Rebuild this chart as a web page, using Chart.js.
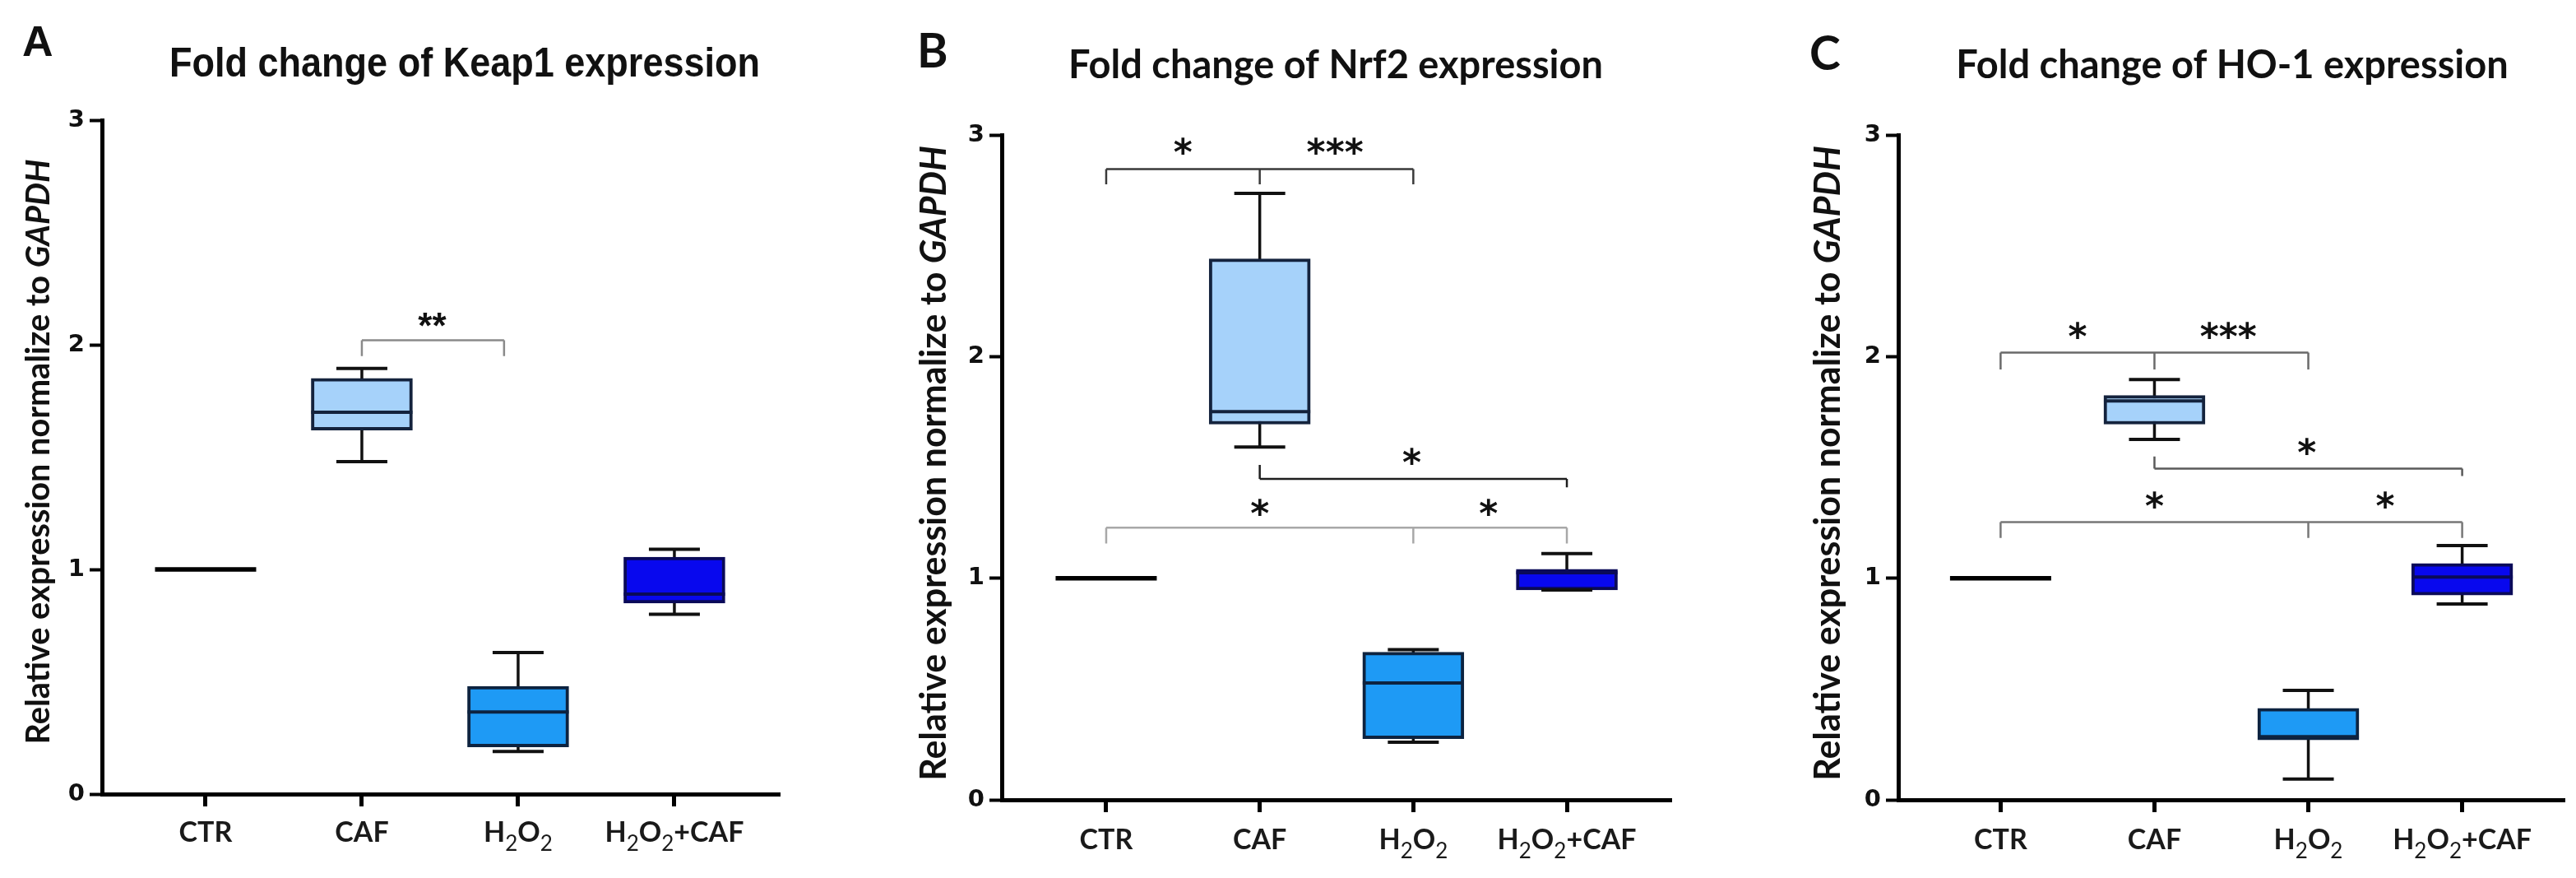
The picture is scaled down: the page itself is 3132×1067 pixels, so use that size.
<!DOCTYPE html>
<html>
<head>
<meta charset="utf-8">
<title>Fold change of Keap1, Nrf2 and HO-1 expression</title>
<script src="https://cdn.jsdelivr.net/npm/chart.js@4.4.0/dist/chart.umd.min.js"></script>
<style>
  html, body { margin: 0; padding: 0; background: #fff; }
  #wrap { position: relative; width: 3132px; height: 1067px; overflow: hidden; background: #fff; }
  #wrap canvas { position: absolute; top: 0; width: 1044px; height: 1067px; }
</style>
</head>
<body>
<div id="wrap">
  <canvas id="keap1" width="1044" height="1067" style="left:0px"></canvas>
  <canvas id="nrf2" width="1044" height="1067" style="left:1044px"></canvas>
  <canvas id="ho1" width="1044" height="1067" style="left:2088px"></canvas>
</div>
<script>
// groups on the x axis ('_' = next character is a subscript)
const groupLabels = ['CTR', 'CAF', 'H_2O_2', 'H_2O_2+CAF'];
const yTicks = [0, 1, 2, 3];

// Keap1 box stats
const keap1Min    = [1, 1.48, 0.19, 0.80];
const keap1Q1     = [1, 1.62, 0.21, 0.85];
const keap1Median = [1, 1.70, 0.365, 0.89];
const keap1Q3     = [1, 1.85, 0.48, 1.055];
const keap1Max    = [1, 1.895, 0.63, 1.09];
const keap1BracketX    = [[1, 1.91]];
const keap1BracketY    = [2.02];
const keap1BracketTips = [[1.95, 1.95]];
const keap1StarX    = [1.45];
const keap1StarY    = [2.11];
const keap1StarText = ['**'];

// Nrf2 box stats
const nrf2Min    = [1, 1.592, 0.26, 0.947];
const nrf2Q1     = [1, 1.695, 0.276, 0.947];
const nrf2Median = [1, 1.752, 0.527, 1.025];
const nrf2Q3     = [1, 2.441, 0.666, 1.04];
const nrf2Max    = [1, 2.736, 0.678, 1.111];
const nrf2BracketX    = [[0, 1, 2], [1, 3], [0, 2, 3]];
const nrf2BracketY    = [2.846, 1.448, 1.228];
const nrf2BracketTips = [[2.777, 2.777, 2.777], [1.511, 1.41], [1.157, 1.157, 1.157]];
const nrf2StarX    = [0.5, 1.49, 1.99, 1.0, 2.49];
const nrf2StarY    = [2.95, 2.95, 1.55, 1.32, 1.32];
const nrf2StarText = ['*', '***', '*', '*', '*'];

// HO-1 box stats
const ho1Min    = [1, 1.626, 0.094, 0.884];
const ho1Q1     = [1, 1.695, 0.27, 0.924];
const ho1Median = [1, 1.80, 0.285, 1.005];
const ho1Q3     = [1, 1.825, 0.413, 1.066];
const ho1Max    = [1, 1.896, 0.494, 1.147];
const ho1BracketX    = [[0, 1, 2], [1, 3], [0, 2, 3]];
const ho1BracketY    = [2.018, 1.494, 1.253];
const ho1BracketTips = [[1.942, 1.942, 1.942], [1.549, 1.461], [1.182, 1.182, 1.182]];
const ho1StarX    = [0.5, 1.48, 1.99, 1.0, 2.5];
const ho1StarY    = [2.12, 2.12, 1.595, 1.354, 1.354];
const ho1StarText = ['*', '***', '*', '*', '*'];

// styling
const boxFill   = ['rgba(0,0,0,0)', '#a6d2fa', '#1e9af5', '#0808ee'];
const boxBorder = ['#000000', '#14233d', '#0d2340', '#0a0a58'];
const calibriLike = 'Lato, "Open Sans", sans-serif';
const tickFont = '"DejaVu Sans", Verdana, sans-serif';
const CANVAS_H = 1067;
const Y_AXIS_W = 80;
const X_AXIS_H = 60;
const BOX_W = 123;
const CAP_W = 62;

const panels = [
  {
    id: 'keap1', offset: 0,
    area: { left: 124, right: 948, top: 146, bottom: 965 },
    xRange: [-0.663, 3.674],
    letter: { text: 'A', x: 27, y: 68, font: 'bold 52px "Liberation Sans", Arial, sans-serif' },
    title: { text: 'Fold change of Keap1 expression', cx: 565, y: 93, width: 718,
             font: 'bold 50px "Liberation Sans Narrow", "Liberation Sans", Arial, sans-serif' },
    yTitle: { x: 60, cy: 549, length: 711 },
    labelBaseline: 1023,
    stats: { min: keap1Min, q1: keap1Q1, median: keap1Median, q3: keap1Q3, max: keap1Max },
    bracketX: keap1BracketX, bracketY: keap1BracketY, bracketTips: keap1BracketTips,
    bracketColors: ['#8a8a8a'],
    starX: keap1StarX, starY: keap1StarY, starText: keap1StarText,
    starFont: 'bold 44px "Liberation Sans", Arial, sans-serif'
  },
  {
    id: 'nrf2', offset: 1044,
    area: { left: 1218, right: 2032, top: 164, bottom: 972 },
    xRange: [-0.68, 3.68],
    letter: { text: 'B', x: 1115, y: 82, font: 'bold 57px ' + calibriLike },
    title: { text: 'Fold change of Nrf2 expression', cx: 1624, y: 95, width: 660,
             font: 'bold 47px ' + calibriLike },
    yTitle: { x: 1150, cy: 563, length: 772 },
    labelBaseline: 1032,
    stats: { min: nrf2Min, q1: nrf2Q1, median: nrf2Median, q3: nrf2Q3, max: nrf2Max },
    bracketX: nrf2BracketX, bracketY: nrf2BracketY, bracketTips: nrf2BracketTips,
    bracketColors: ['#3a3a3a', '#1e1e1e', '#a8a8a8'],
    starX: nrf2StarX, starY: nrf2StarY, starText: nrf2StarText,
    starFont: 'bold 44px "DejaVu Sans", sans-serif'
  },
  {
    id: 'ho1', offset: 2088,
    area: { left: 2308, right: 3118, top: 164, bottom: 972 },
    xRange: [-0.665, 3.665],
    letter: { text: 'C', x: 2200, y: 85, font: 'bold 57px ' + calibriLike },
    title: { text: 'Fold change of HO-1 expression', cx: 2714, y: 95, width: 672,
             font: 'bold 47px ' + calibriLike },
    yTitle: { x: 2237, cy: 563, length: 772 },
    labelBaseline: 1032,
    stats: { min: ho1Min, q1: ho1Q1, median: ho1Median, q3: ho1Q3, max: ho1Max },
    bracketX: ho1BracketX, bracketY: ho1BracketY, bracketTips: ho1BracketTips,
    bracketColors: ['#6a6a6a', '#5a5a5a', '#777777'],
    starX: ho1StarX, starY: ho1StarY, starText: ho1StarText,
    starFont: 'bold 44px "DejaVu Sans", sans-serif'
  }
];

// split 'H_2O_2' into normal / subscript runs
function labelRuns(label) {
  const runs = [];
  for (let i = 0; i < label.length; i++) {
    let sub = false;
    let ch = label[i];
    if (ch === '_') { sub = true; ch = label[++i]; }
    const last = runs[runs.length - 1];
    if (last && last.sub === sub) last.text += ch;
    else runs.push({ text: ch, sub: sub });
  }
  return runs;
}

function drawGroupLabel(ctx, label, cx, baseline) {
  const mainFont = 'bold 34px ' + calibriLike;
  const subFont = '26px ' + calibriLike;
  const runs = labelRuns(label);
  let total = 0;
  runs.forEach(r => {
    ctx.font = r.sub ? subFont : mainFont;
    r.w = ctx.measureText(r.text).width;
    total += r.w;
  });
  let x = cx - total / 2;
  ctx.textAlign = 'left';
  ctx.textBaseline = 'alphabetic';
  runs.forEach(r => {
    ctx.font = r.sub ? subFont : mainFont;
    ctx.fillText(r.text, x, r.sub ? baseline + 11 : baseline);
    x += r.w;
  });
}

// rotated axis title, GAPDH in italics, sized to the measured length
function drawYTitle(ctx, p) {
  const partA = 'Relative expression normalize to ';
  const partB = 'GAPDH';
  const fonts = size => ['bold ' + size + 'px ' + calibriLike, 'italic bold ' + size + 'px ' + calibriLike];
  const widths = size => {
    const [fa, fb] = fonts(size);
    ctx.font = fa;
    const wA = ctx.measureText(partA).width;
    ctx.font = fb;
    return [wA, ctx.measureText(partB).width];
  };
  let [wA, wB] = widths(40);
  const size = 40 * p.yTitle.length / (wA + wB);
  [wA, wB] = widths(size);
  const [fontA, fontB] = fonts(size);
  ctx.save();
  ctx.translate(p.yTitle.x - p.offset, p.yTitle.cy);
  ctx.rotate(-Math.PI / 2);
  const start = -(wA + wB) / 2;
  ctx.textAlign = 'left';
  ctx.textBaseline = 'alphabetic';
  ctx.fillStyle = '#111';
  ctx.font = fontA;
  ctx.fillText(partA, start, 0);
  ctx.font = fontB;
  ctx.fillText(partB, start + wA, 0);
  ctx.restore();
}

function boxDecor(p) {
  return {
    id: 'boxDecor',
    beforeDatasetsDraw(chart) {
      const { ctx, scales: { x, y } } = chart;
      ctx.save();
      ctx.strokeStyle = '#111';
      ctx.lineWidth = 3.5;
      p.stats.min.forEach((mn, i) => {
        const mx = p.stats.max[i];
        if (mx === mn) return;
        const px = x.getPixelForValue(i);
        ctx.beginPath();
        ctx.moveTo(px, y.getPixelForValue(mn));
        ctx.lineTo(px, y.getPixelForValue(mx));
        ctx.stroke();
      });
      ctx.restore();
    },
    afterDatasetsDraw(chart) {
      const { ctx, scales: { x, y } } = chart;
      ctx.save();
      ctx.lineCap = 'butt';
      p.stats.median.forEach((md, i) => {
        const px = x.getPixelForValue(i);
        // whisker caps
        if (p.stats.max[i] !== p.stats.min[i]) {
          ctx.strokeStyle = '#111';
          ctx.lineWidth = 4;
          [p.stats.min[i], p.stats.max[i]].forEach(v => {
            const py = y.getPixelForValue(v);
            ctx.beginPath();
            ctx.moveTo(px - CAP_W / 2, py);
            ctx.lineTo(px + CAP_W / 2, py);
            ctx.stroke();
          });
        }
        // median
        const boxFlat = p.stats.q1[i] === p.stats.q3[i];
        ctx.strokeStyle = boxFlat ? '#000' : boxBorder[i];
        ctx.lineWidth = boxFlat ? 5.5 : 4;
        const py = y.getPixelForValue(md);
        ctx.beginPath();
        ctx.moveTo(px - BOX_W / 2, py);
        ctx.lineTo(px + BOX_W / 2, py);
        ctx.stroke();
      });
      ctx.restore();
    },
    afterDraw(chart) {
      const { ctx, scales: { x, y } } = chart;
      ctx.save();
      // significance brackets
      ctx.lineWidth = 2.5;
      p.bracketX.forEach((xs, k) => {
        ctx.strokeStyle = p.bracketColors[k % p.bracketColors.length];
        const yl = y.getPixelForValue(p.bracketY[k]);
        ctx.beginPath();
        ctx.moveTo(x.getPixelForValue(xs[0]), yl);
        ctx.lineTo(x.getPixelForValue(xs[xs.length - 1]), yl);
        xs.forEach((xv, j) => {
          const px = x.getPixelForValue(xv);
          ctx.moveTo(px, yl);
          ctx.lineTo(px, y.getPixelForValue(p.bracketTips[k][j]));
        });
        ctx.stroke();
      });
      // stars
      ctx.fillStyle = '#111';
      ctx.font = p.starFont;
      ctx.textAlign = 'center';
      ctx.textBaseline = 'alphabetic';
      p.starText.forEach((t, k) => {
        const m = ctx.measureText(t);
        const mid = (m.actualBoundingBoxAscent - m.actualBoundingBoxDescent) / 2;
        ctx.fillText(t, x.getPixelForValue(p.starX[k]), y.getPixelForValue(p.starY[k]) + mid);
      });
      // group labels under the x axis
      ctx.fillStyle = '#1a1a1a';
      groupLabels.forEach((lab, i) => {
        drawGroupLabel(ctx, lab, x.getPixelForValue(i), p.labelBaseline);
      });
      // y axis title
      drawYTitle(ctx, p);
      // panel letter and title
      ctx.fillStyle = '#111';
      ctx.textAlign = 'left';
      ctx.font = p.letter.font;
      ctx.fillText(p.letter.text, p.letter.x - p.offset, p.letter.y);
      ctx.textAlign = 'center';
      ctx.font = p.title.font;
      ctx.fillText(p.title.text, p.title.cx - p.offset, p.title.y, p.title.width);
      ctx.restore();
    }
  };
}

function makePanel(p) {
  const canvas = document.getElementById(p.id);
  const left = p.area.left - p.offset;
  const right = p.area.right - p.offset;
  const data = p.stats.q1.map((q1, i) => ({ x: i, y: [q1, p.stats.q3[i]] }));

  return new Chart(canvas.getContext('2d'), {
    type: 'bar',
    data: {
      datasets: [{
        data: data,
        backgroundColor: boxFill,
        borderColor: boxBorder,
        borderWidth: 4,
        borderSkipped: false,
        barThickness: BOX_W
      }]
    },
    options: {
      responsive: false,
      animation: false,
      layout: {
        padding: {
          left: left - Y_AXIS_W,
          right: canvas.width - right,
          top: p.area.top,
          bottom: CANVAS_H - p.area.bottom - X_AXIS_H
        }
      },
      plugins: {
        legend: { display: false },
        tooltip: { enabled: false },
        title: { display: false }
      },
      scales: {
        x: {
          type: 'linear',
          offset: false,
          min: p.xRange[0],
          max: p.xRange[1],
          afterBuildTicks: s => { s.ticks = groupLabels.map((_, i) => ({ value: i })); },
          afterFit: s => { s.height = X_AXIS_H; },
          ticks: { callback: () => '' },
          grid: {
            offset: false,
            drawOnChartArea: false,
            drawTicks: true,
            tickLength: 15,
            tickWidth: 5,
            tickColor: '#000'
          },
          border: { display: true, color: '#000', width: 5 }
        },
        y: {
          min: 0,
          max: 3,
          afterBuildTicks: s => { s.ticks = yTicks.map(v => ({ value: v })); },
          afterFit: s => { s.width = Y_AXIS_W; },
          ticks: {
            color: '#111',
            padding: 6,
            font: { family: tickFont, weight: 'bold', size: 29 }
          },
          grid: {
            drawOnChartArea: false,
            drawTicks: true,
            tickLength: 15,
            tickWidth: 4,
            tickColor: '#000'
          },
          border: { display: true, color: '#000', width: 5 }
        }
      }
    },
    plugins: [boxDecor(p)]
  });
}

panels.forEach(makePanel);
</script>
</body>
</html>
